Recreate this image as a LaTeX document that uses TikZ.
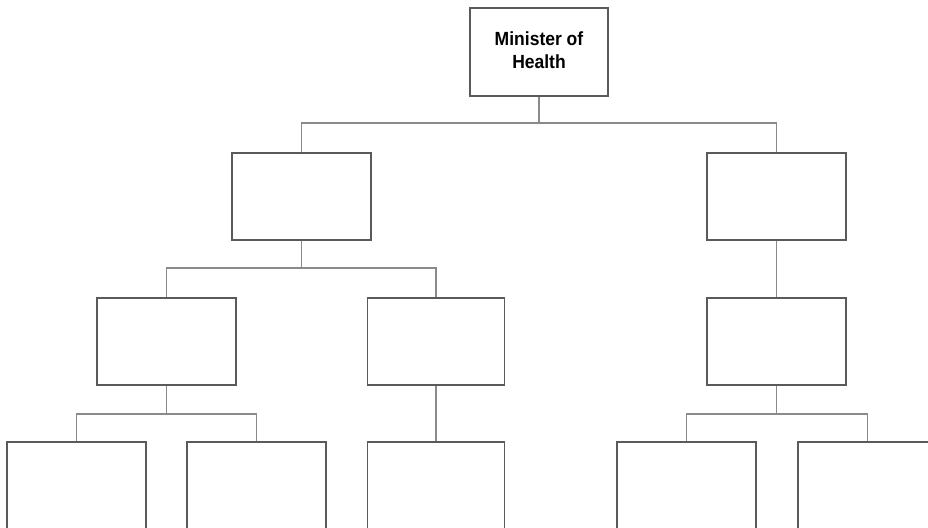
\documentclass[tikz,border=0pt]{standalone}
\usepackage{fontspec}
\setmainfont{Liberation Sans}
\begin{document}
\begin{tikzpicture}[x=1pt,y=-1pt,
  box/.style={draw=boxgray,line width=1.1pt,fill=white,inner sep=0pt,minimum width=139pt,minimum height=87pt},
  leaf/.style={box,minimum height=120pt},
  conn/.style={draw=linegray,line width=1.1pt}]
\definecolor{boxgray}{HTML}{5A5A5A}
\definecolor{linegray}{HTML}{8A8A8A}
\useasboundingbox (0,0) rectangle (928,527);
\clip (0,0) rectangle (928,527);
\fill[white] (0,0) rectangle (928,527);
% junction points
\coordinate (j0) at (539,123);
\coordinate (j1) at (301.5,268);
\coordinate (j2) at (166.5,414);
\coordinate (j3) at (776.5,414);
\node[box,minimum width=138pt,minimum height=88pt,font=\bfseries\fontsize{17}{22}\selectfont] (top) at (539,52)
  {\scalebox{1.03}[1.12]{\begin{tabular}{@{}c@{}}Minister of\\[-1pt]Health\end{tabular}}};
\node[box] (l2a) at (301.5,196.5) {};
\node[box] (l2b) at (776.5,196.5) {};
\node[box] (l3a) at (166.5,341.5) {};
\node[box,minimum width=137pt] (l3b) at (436,341.5) {};
\node[box] (l3c) at (776.5,341.5) {};
\node[leaf] (l4a) at (76.5,502) {};
\node[leaf] (l4b) at (256.5,502) {};
\node[leaf,minimum width=137pt] (l4c) at (436,502) {};
\node[leaf] (l4d) at (686.5,502) {};
\node[leaf] (l4e) at (867.5,502) {};
\draw[conn] (top.south) -- (j0);
\draw[conn] (l2a.north) |- (j0) -| (l2b.north);
\draw[conn] (l2a.south) -- (j1);
\draw[conn] (l3a.north) |- (j1) -| (l3b.north);
\draw[conn] (l2b.south) -- (l3c.north);
\draw[conn] (l3a.south) -- (j2);
\draw[conn] (l4a.north) |- (j2) -| (l4b.north);
\draw[conn] (l3b.south) -- (l4c.north);
\draw[conn] (l3c.south) -- (j3);
\draw[conn] (l4d.north) |- (j3) -| (l4e.north);
\end{tikzpicture}
\end{document}
